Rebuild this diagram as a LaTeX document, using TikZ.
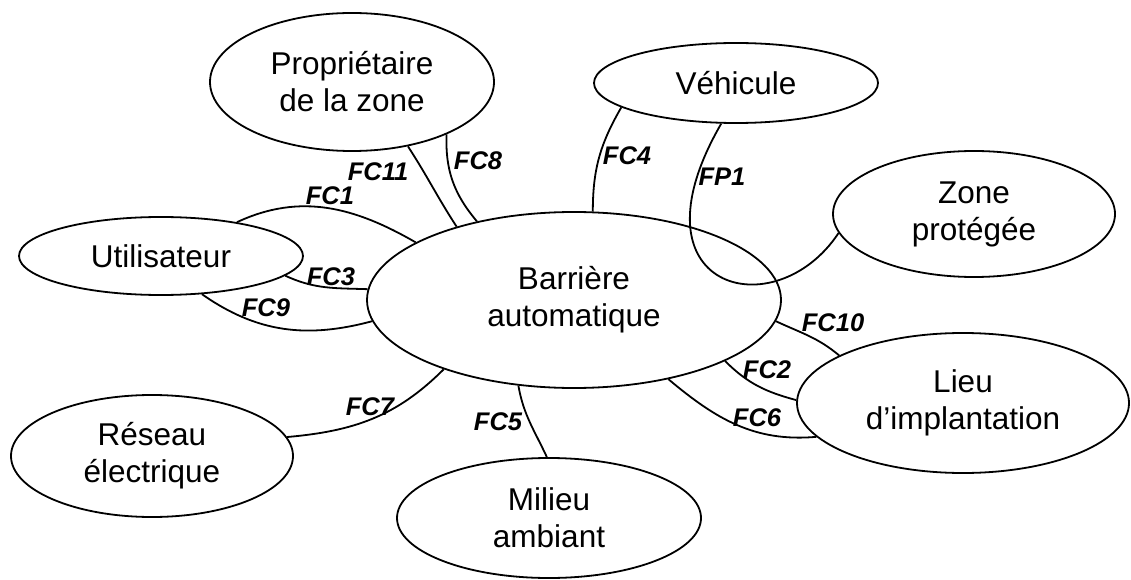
\documentclass[tikz,border=0pt]{standalone}
\usepackage{fontspec}
\setmainfont{Liberation Sans}
\usetikzlibrary{shapes.geometric}
\begin{document}
\begin{tikzpicture}[x=1pt,y=1pt,line width=1.8pt,
  ent/.style={draw, ellipse, inner sep=0pt, align=center,
    font=\fontsize{31.5}{37}\selectfont},
  lab/.style={inner sep=0pt, text height=18pt, text depth=0pt,
    font=\fontsize{25.5}{25.5}\selectfont\bfseries\itshape},
  link/.style={draw}]
\useasboundingbox (0,0) rectangle (1131,579);
% entities
\node[ent, minimum width=284pt, minimum height=138pt] (prop) at (352,497) {Propriétaire\\de la zone};
\node[ent, minimum width=284pt, minimum height=80pt]  (veh)  at (736,496) {Véhicule};
\node[ent, minimum width=282pt, minimum height=126pt] (zone) at (974,365) {Zone\\protégée};
\node[ent, minimum width=284pt, minimum height=78pt]  (user) at (161,323) {Utilisateur};
\node[ent, minimum width=414pt, minimum height=176pt] (bar)  at (574,279) {Barrière\\automatique};
\node[ent, minimum width=332pt, minimum height=140pt] (lieu) at (963,176) {Lieu\\d’implantation};
\node[ent, minimum width=282pt, minimum height=122pt] (res)  at (152,123) {Réseau\\électrique};
\node[ent, minimum width=304pt, minimum height=120pt] (mil)  at (549,61)  {Milieu\\ambiant};
% connectors
\draw[link] (user.24.6) to[out=25,in=150] (bar.160);
\draw[link] (user.-9.8) to[out=-25,in=178] (bar.177);
\draw[link] (user.-43.9) to[out=-35,in=195] (bar.186.5);
\draw[link] (prop.-49.2) to[out=-57,in=123] (bar.148);
\draw[link] (prop.-29.7) to[out=-92,in=130] (bar.141.3);
\draw[link] (veh.192.7) to[out=-120,in=90] (bar.78.6);
\draw[link] (veh.250.6) .. controls (625,289) and (775,250) .. (zone.188);
\draw[link] (bar.-6.2) to[out=-25,in=140] (lieu.159.8);
\draw[link] (bar.-22.6) to[out=-45,in=165] (lieu.179);
\draw[link] (bar.-40.2) to[out=-40,in=185] (lieu.193.1);
\draw[link] (res.8.1) to[out=5,in=225] (bar.208.1);
\draw[link] (bar.237.6) to[out=-80,in=115] (mil.92);
% labels
\node[lab] (l1)  at (330,383) {FC1};
\node[lab] (l11) at (378,407) {FC11};
\node[lab] (l8)  at (478,418) {FC8};
\node[lab] (l4)  at (627,423) {FC4};
\node[lab] (lp1) at (722,402) {FP1};
\node[lab] (l3)  at (331,303) {FC3};
\node[lab] (l9)  at (266,272) {FC9};
\node[lab] (l10) at (833,257) {FC10};
\node[lab] (l2)  at (767,210) {FC2};
\node[lab] (l6)  at (757,162) {FC6};
\node[lab] (l7)  at (370,173) {FC7};
\node[lab] (l5)  at (498,158) {FC5};
\end{tikzpicture}
\end{document}
